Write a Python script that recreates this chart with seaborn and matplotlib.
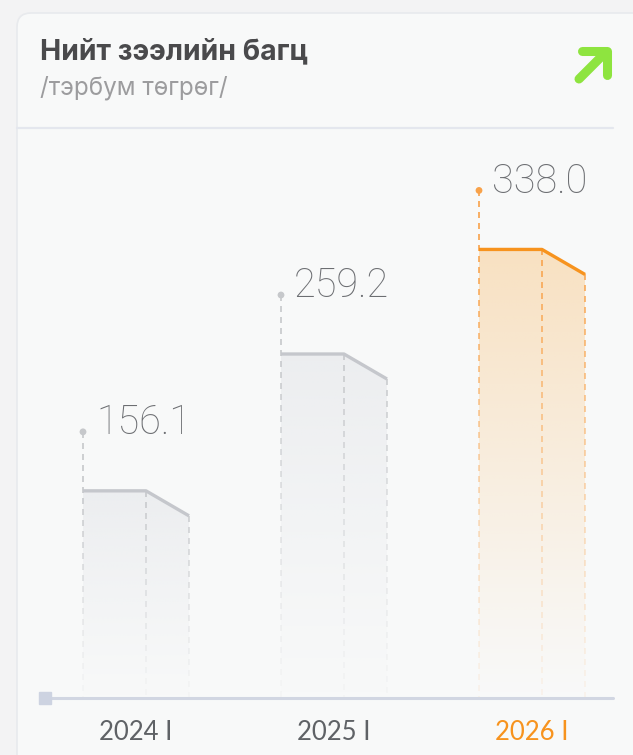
#!/usr/bin/env python3

# Total loan portfolio card: three stepped bars with faded fill.

import numpy as np
import pandas
import matplotlib
matplotlib.use("Agg")
import matplotlib.pyplot as plt
from matplotlib.collections import LineCollection
from matplotlib.lines import Line2D
from matplotlib.patches import FancyBboxPatch, Polygon
from matplotlib.colors import to_rgb
import seaborn as sns

# data
periods = ["2024 I", "2025 I", "2026 I"]
values = [156.1, 259.2, 338.0]
title = "Нийт зээлийн багц"
subtitle = "/тэрбум төгрөг/"

# styling
W, H, DPI = 633, 755, 100
GRAY_LINE = "#c5c7cc"
GRAY_DASH = "#c6c8cb"
GRAY_FILL = "#dcdee3"
ORANGE = "#f7931e"
ORANGE_DASH = "#f8a24a"
ORANGE_FILL = "#f9c98a"
line_colors = [GRAY_LINE, GRAY_LINE, ORANGE]
dash_colors = [GRAY_DASH, GRAY_DASH, ORANGE_DASH]
fill_colors = [GRAY_FILL, GRAY_FILL, ORANGE_FILL]
fill_alpha = [0.42, 0.42, 0.5]
tick_colors = ["#5f6266", "#5f6266", ORANGE]

sns.set_theme(style="white")
plt.rcParams["font.family"] = ["Inter", "Noto Sans", "DejaVu Sans"]

fig = plt.figure(figsize=(W / DPI, H / DPI), dpi=DPI)
fig.patch.set_facecolor("#f3f3f4")

# card background (display pixel coords, origin bottom-left)
card = FancyBboxPatch((17, -20), 640, H - 13 + 20, boxstyle="round,pad=0,rounding_size=14",
                      transform=None, facecolor="#f8f9f9", edgecolor="#e8eaed", linewidth=1.2,
                      zorder=-10)
fig.patches.append(card)
fig.lines.append(Line2D([17, 613], [H - 128, H - 128], transform=None, color="#e4e7ee", lw=1.6))

# arrow icon
ic = dict(transform=None, color="#8ee43f", lw=6.5, solid_capstyle="round", solid_joinstyle="round")
fig.lines.append(Line2D([582, 607, 607], [H - 51, H - 51, H - 75], **ic))
fig.lines.append(Line2D([606, 579], [H - 52, H - 79], **ic))

fig.text(40 / W, 1 - 59 / H, title, fontsize=20.5, fontweight="bold", color="#4a4a4c", va="baseline")
fig.text(40 / W, 1 - 95 / H, subtitle, fontsize=17.5, color="#9c9c9e", va="baseline")

ax = fig.add_axes([45 / W, (H - 698) / H, (613 - 45) / W, (698 - 130) / H])
ax.set_facecolor("none")

XLIM = ((45 - 136) / 198, (613 - 136) / 198)
YLIM = (0, 428)
px_x = 1 / 198           # data units per pixel
px_y = 428 / 568
half = 53 * px_x
flat = 63 * px_x
drop = 25 * px_y
lift = 59 * px_y

rows = []
for i, (p, v) in enumerate(zip(periods, values)):
    left, right = i - half, i + half
    rows += [(p, left, v), (p, left + flat, v), (p, right, v - drop)]
edges = pandas.DataFrame(rows, columns=["period", "x", "y"])


def dashes(x, top, fade_top, color):
    on, off = 6 * px_y, 5 * px_y
    segs, cols = [], []
    y = top
    base = np.array(to_rgb(color))
    while y > 0:
        y2 = max(y - on, 0)
        mid = (y + y2) / 2
        a = 1.0 if mid >= fade_top else 0.08 + 0.92 * (mid / fade_top) ** 1.3
        segs.append([(x, y), (x, y2)])
        cols.append((*base, a))
        y = y2 - off
    ax.add_collection(LineCollection(segs, colors=cols, linewidths=1.2))


grad = np.linspace(0, 1, 256).reshape(-1, 1)
for i, v in enumerate(values):
    left, right = i - half, i + half
    poly = Polygon([(left, 0), (left, v), (left + flat, v), (right, v - drop), (right, 0)],
                   closed=True, facecolor="none", edgecolor="none")
    ax.add_patch(poly)
    rgba = np.zeros((256, 1, 4))
    rgba[..., :3] = to_rgb(fill_colors[i])
    rgba[..., 3] = fill_alpha[i] * grad ** 1.1
    im = ax.imshow(rgba, origin="lower", extent=[left, right, 0, v], aspect="auto",
                   interpolation="bilinear", zorder=1)
    im.set_clip_path(poly)
    dashes(left, v + lift, v, dash_colors[i])
    dashes(left + flat, v, v, dash_colors[i])
    dashes(right, v - drop, v, dash_colors[i])

palette = dict(zip(periods, line_colors))
sns.lineplot(data=edges, x="x", y="y", hue="period", palette=palette, estimator=None,
             sort=False, legend=False, lw=2.4, ax=ax, zorder=3,
             solid_joinstyle="round", solid_capstyle="butt")

dots = pandas.DataFrame({"period": periods,
                         "x": [i - half for i in range(len(values))],
                         "y": [v + lift for v in values]})
sns.scatterplot(data=dots, x="x", y="y", hue="period", palette=dict(zip(periods, dash_colors)),
                s=24, linewidth=0, legend=False, ax=ax, zorder=4)

for i, v in enumerate(values):
    ax.annotate(f"{v:.1f}", (i - half, v + lift), xytext=(9.5, -1.5), textcoords="offset points",
                fontsize=28.5, fontfamily=["Roboto", "DejaVu Sans"], fontweight="light",
                color="#6c6e72", va="baseline", ha="left")

# baseline with square start marker
ax.axhline(0, color="#d1d6e2", lw=2.2, zorder=2, clip_on=False)
ax.plot([XLIM[0]], [0], marker="s", markersize=8, color="#cdd3e1", clip_on=False, zorder=5)

ax.set_xlim(*XLIM)
ax.set_ylim(*YLIM)
ax.set_xticks(range(len(periods)))
ax.set_xticklabels(periods, fontsize=18.5, fontfamily=["Lato", "DejaVu Sans"])
for lab, c in zip(ax.get_xticklabels(), tick_colors):
    lab.set_color(c)
ax.tick_params(axis="x", length=0, pad=16)
ax.set_yticks([])
ax.set_xlabel("")
ax.set_ylabel("")
sns.despine(ax=ax, left=True, bottom=True)

fig.savefig("out.png", dpi=DPI, facecolor=fig.get_facecolor())
